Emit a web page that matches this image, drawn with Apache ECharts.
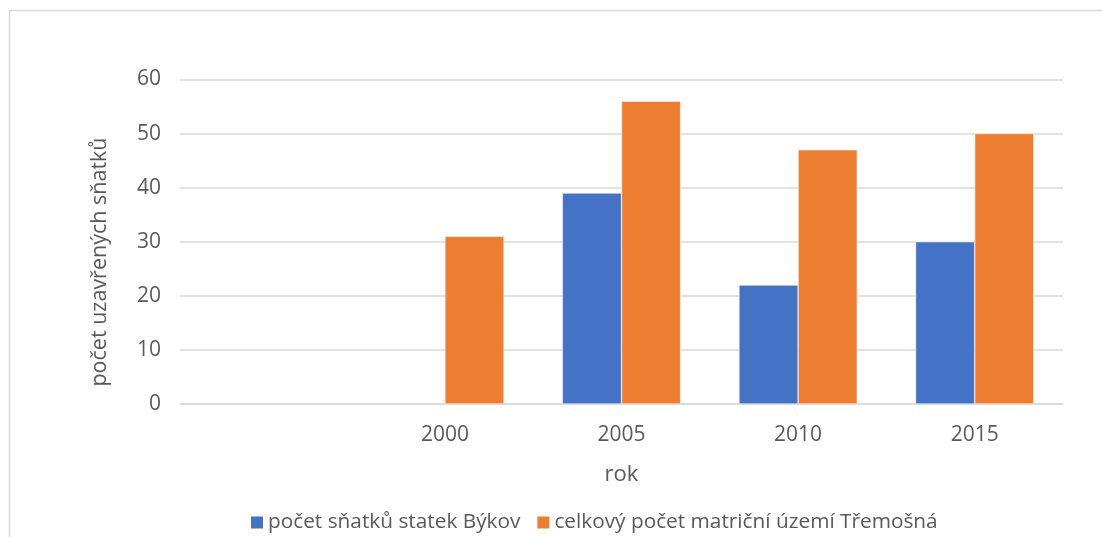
<!DOCTYPE html>
<html>
<head>
<meta charset="utf-8">
<script src="https://cdn.jsdelivr.net/npm/echarts@6/dist/echarts.min.js"></script>
<style>
  html, body { margin: 0; padding: 0; background: #fff; }
  #chart { width: 1102px; height: 537px; }
</style>
</head>
<body>
<div id="chart"></div>
<script>
// kategorie (první je prázdná)
const years = ["", "2000", "2005", "2010", "2015"];
const bykov = [null, null, 39, 22, 30];
const tremosna = [null, 31, 56, 47, 50];
const yTicks = { min: 0, max: 60, interval: 10 };

const font = "'Open Sans', 'Noto Sans', sans-serif";
const chart = echarts.init(document.getElementById("chart"));

chart.setOption({
  animation: false,
  textStyle: { fontFamily: font },
  grid: { left: 180, right: 39, top: 79.5, bottom: 133, containLabel: false },
  legend: {
    top: 507,
    left: 244,
    itemWidth: 14,
    itemHeight: 14,
    itemGap: 15,
    icon: "rect",
    textStyle: { color: "#595959", fontSize: 20.8, fontFamily: font, padding: [0, 0, 0, -1] }
  },
  xAxis: {
    type: "category",
    data: years,
    name: "rok",
    nameLocation: "middle",
    nameGap: 60,
    nameTextStyle: { color: "#595959", fontSize: 22, fontFamily: font },
    axisLine: { lineStyle: { color: "#d9d9d9", width: 1.5 } },
    axisTick: { show: false },
    axisLabel: { color: "#595959", fontSize: 21, margin: 21 }
  },
  yAxis: {
    type: "value",
    min: yTicks.min,
    max: yTicks.max,
    interval: yTicks.interval,
    axisLine: { show: false },
    axisTick: { show: false },
    axisLabel: { color: "#595959", fontSize: 21, margin: 19 },
    splitLine: { lineStyle: { color: "#d9d9d9", width: 1.5 } }
  },
  graphic: [
    {
      type: "rect",
      shape: { x: 9.5, y: 10.5, width: 1200, height: 600 },
      style: { fill: "none", stroke: "#d9d9d9", lineWidth: 1.5 },
      silent: true,
      z: -10
    },
    {
      type: "text",
      x: 100,
      y: 262,
      rotation: Math.PI / 2,
      style: {
        text: "počet uzavřených sňatků",
        fill: "#595959",
        font: "21.5px " + font,
        align: "center",
        verticalAlign: "middle"
      }
    }
  ],
  series: [
    {
      name: "počet sňatků statek Býkov",
      type: "bar",
      data: bykov,
      barGap: "0%",
      barCategoryGap: "33%",
      itemStyle: { color: "#4472c4", borderColor: "#fff", borderWidth: 0.5 }
    },
    {
      name: "celkový počet matriční území Třemošná",
      type: "bar",
      data: tremosna,
      barGap: "0%",
      barCategoryGap: "33%",
      itemStyle: { color: "#ed7d31", borderColor: "#fff", borderWidth: 0.5 }
    }
  ]
});
</script>
</body>
</html>
